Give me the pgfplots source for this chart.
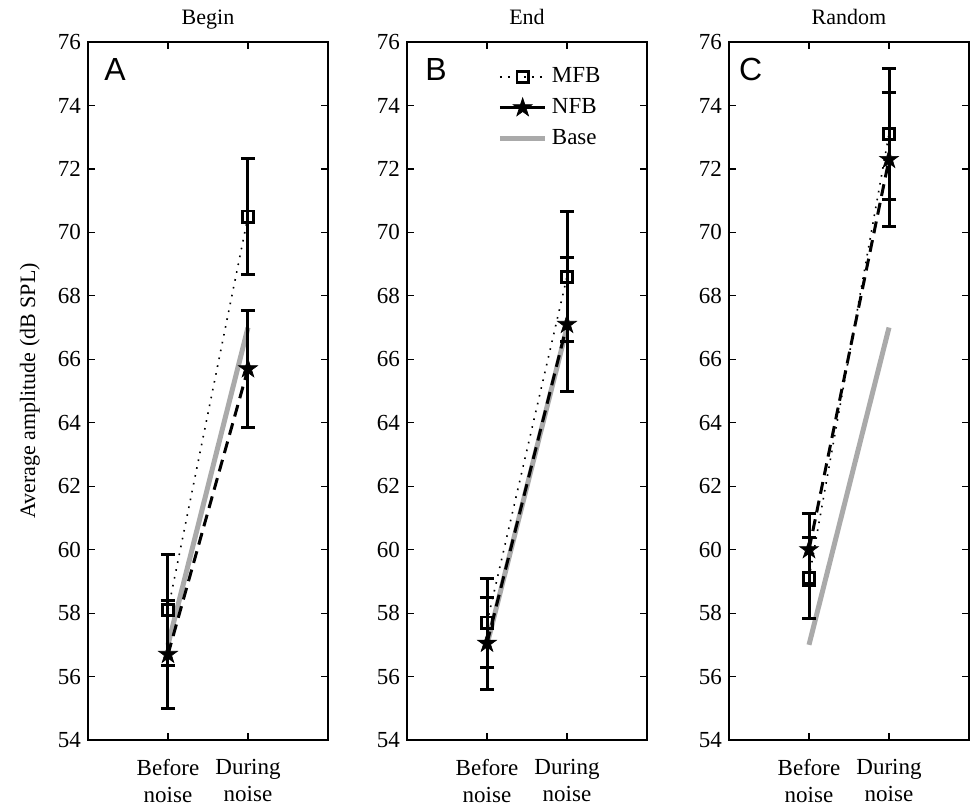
\documentclass[border=0pt]{standalone}
\usepackage{pgfplots}
\pgfplotsset{compat=1.18}
\usepackage{fontspec}
\setmainfont{Liberation Serif}
\newfontfamily\sansf{Liberation Sans}
\definecolor{basegray}{RGB}{170,170,170}
\pgfdeclareplotmark{fstar}{%
  \pgfpathmoveto{\pgfpointpolar{90}{\pgfplotmarksize}}%
  \pgfpathlineto{\pgfpointpolar{126}{0.382\pgfplotmarksize}}%
  \pgfpathlineto{\pgfpointpolar{162}{\pgfplotmarksize}}%
  \pgfpathlineto{\pgfpointpolar{198}{0.382\pgfplotmarksize}}%
  \pgfpathlineto{\pgfpointpolar{234}{\pgfplotmarksize}}%
  \pgfpathlineto{\pgfpointpolar{270}{0.382\pgfplotmarksize}}%
  \pgfpathlineto{\pgfpointpolar{306}{\pgfplotmarksize}}%
  \pgfpathlineto{\pgfpointpolar{342}{0.382\pgfplotmarksize}}%
  \pgfpathlineto{\pgfpointpolar{18}{\pgfplotmarksize}}%
  \pgfpathlineto{\pgfpointpolar{54}{0.382\pgfplotmarksize}}%
  \pgfpathclose\pgfusepathqfillstroke}
\tikzset{panellet/.style={font=\sansf\fontsize{16}{16}\selectfont}}
\pgfplotsset{
  panel/.style={width=120pt,height=349pt,scale only axis,
    xmin=0,xmax=3,ymin=54,ymax=76,
    ytick={54,56,...,76}, xtick={1,2},
    xticklabels={{Before\\noise},{During\\noise}},
    tick align=inside, major tick length=3.5pt,
    axis line style={line width=1pt},
    tick style={line width=0.6pt,black},
    ticklabel style={font=\fontsize{11.5}{13.5}\selectfont},
    xticklabel style={align=center,yshift=-6pt},
    /pgf/number format/assume math mode=true,
    title style={font=\fontsize{11}{13.5}\selectfont,at={(0.5,1)},anchor=base,yshift=3pt},
    clip=false},
  ebar/.style={error bars/y dir=both, error bars/y explicit,
    error bars/error bar style={solid,line width=1.5pt,black},
    error bars/error mark options={rotate=90,mark size=3.6pt,line width=1.5pt,solid,black}},
  mfb/.style={black, line width=0.8pt, dash pattern=on 0.8pt off 3.2pt,
    mark=square, mark size=2.8pt, mark options={solid,line width=1.4pt}},
  nfb/.style={black, line width=1.5pt, dash pattern=on 6pt off 3.5pt,
    mark=fstar, mark size=5pt, mark options={solid,fill=black,line width=0.3pt}},
  nfbleg/.style={black, line width=1.5pt, solid,
    mark=fstar, mark size=5pt, mark options={solid,fill=black,line width=0.3pt}},
  basel/.style={basegray, line width=2.5pt, no marks}
}
\begin{document}
\begin{tikzpicture}
\useasboundingbox (-44pt,-32.5pt) rectangle (445.5pt,370pt);
% Panel A
\begin{axis}[panel, at={(0pt,0pt)}, anchor=south west, title={Begin},
  ylabel={Average amplitude (dB SPL)},
  ylabel style={at={(axis description cs:-0.242,0.5)},anchor=center,font=\fontsize{11}{13.5}\selectfont}]
\addplot[basel] coordinates {(1,57) (2,67)};
\addplot[mfb, ebar] coordinates {(1,58.1) +- (0,1.75) (2,70.5) +- (0,1.83)};
\addplot[nfb, ebar] coordinates {(1,56.7) +- (0,1.7) (2,65.7) +- (0,1.85)};
\node[panellet] at (rel axis cs:0.1125,0.961) {A};
\end{axis}
% Panel B
\begin{axis}[panel, at={(159.5pt,0pt)}, anchor=south west, title={End},
  legend style={draw=none,fill=none,at={(rel axis cs:0.35,0.975)},anchor=north west,
    font=\fontsize{11.5}{13.5}\selectfont, row sep=2.4pt},
  legend cell align=left,
  legend image code/.code={\draw[mark repeat=2,mark phase=2,#1] plot coordinates {(0cm,0cm) (0.4cm,0cm) (0.8cm,0cm)};}]
\addplot[forget plot, basel] coordinates {(1,57) (2,67)};
\addplot[forget plot, mfb, ebar] coordinates {(1,57.7) +- (0,1.4) (2,68.6) +- (0,2.05)};
\addplot[forget plot, nfb, ebar] coordinates {(1,57.05) +- (0,1.45) (2,67.1) +- (0,2.1)};
\addlegendimage{mfb}
\addlegendentry{MFB}
\addlegendimage{nfbleg}
\addlegendentry{NFB}
\addlegendimage{basegray, line width=2.5pt}
\addlegendentry{Base}
\node[panellet] at (rel axis cs:0.121,0.96) {B};
\end{axis}
% Panel C
\begin{axis}[panel, at={(320.5pt,0pt)}, anchor=south west, title={Random}]
\addplot[basel] coordinates {(1,57) (2,67)};
\addplot[mfb, ebar] coordinates {(1,59.1) +- (0,1.27) (2,73.1) +- (0,2.05)};
\addplot[nfb, ebar] coordinates {(1,60.0) +- (0,1.13) (2,72.3) +- (0,2.1)};
\node[panellet] at (rel axis cs:0.09,0.96) {C};
\end{axis}
\end{tikzpicture}
\end{document}
